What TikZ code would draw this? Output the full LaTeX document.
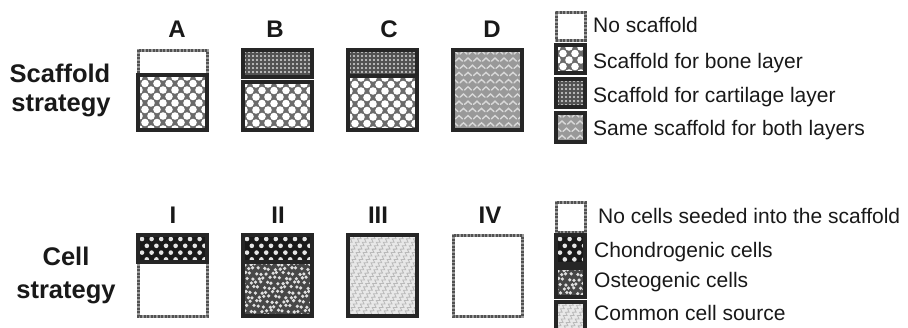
\documentclass[tikz,border=0pt]{standalone}
\usepackage{fontspec}
\setmainfont{Liberation Sans}
\usetikzlibrary{decorations.pathmorphing}
\tikzset{
  solidbox/.style={draw=black!85, line width=3.2pt},
  emptyband/.style={draw=black!40, line width=3pt, fill=white},
  emptydots/.style={draw=black!68, line width=3pt, dash pattern=on 2pt off 1.5pt},
  lettr/.style={font=\fontsize{24}{28}\selectfont\bfseries, anchor=base, inner sep=0pt, text=black!90},
  sidelbl/.style={font=\fontsize{25.5}{30}\selectfont\bfseries, anchor=base, inner sep=0pt, text=black!90},
  legtxt/.style={font=\fontsize{21}{25}\selectfont, anchor=base west, inner sep=0pt, text=black!90},
}
% pattern macros: #1 x1, #2 y1, #3 x2, #4 y2 (pixel coords, y down)
\newcommand\patbone[4]{%
  \fill[black!58] (#1,#2) rectangle (#3,#4);
  \foreach \i in {0,...,6}{\foreach \j in {0,...,12}{%
    \fill[white] ({#1+1+\i*12+mod(\j,2)*6},{#2+2+\j*6.5}) circle (3.8pt);}}}
\newcommand\patcart[4]{%
  \fill[black!68] (#1,#2) rectangle (#3,#4);
  \foreach \i in {0,...,17}{\foreach \j in {0,...,7}{%
    \fill[gray!30] ({#1+2+\i*4},{#2+2+\j*4}) circle (1.15pt);}}}
\newcommand\patsame[4]{%
  \fill[black!40] (#1,#2) rectangle (#3,#4);
  \foreach \i in {0,...,8}{\foreach \j in {0,...,11}{%
    \draw[white!85!black, line width=1.4pt, line cap=round]
      ({#1-2+\i*9+mod(\j,2)*4.5},{#2+4+\j*7.2}) -- ++(3.5,-3.2) -- ++(3.5,3.2);}}}
\newcommand\patchon[4]{%
  \fill[black!90] (#1,#2) rectangle (#3,#4);
  \foreach \i in {0,...,7}{\foreach \j in {0,...,4}{%
    \fill[gray!20] ({#1+4+\i*9.6+mod(\j,2)*4.8},{#2+4+\j*6.8}) circle (2.3pt);}}}
\newcommand\patosteo[4]{%
  \fill[black!72] (#1,#2) rectangle (#3,#4);
  \foreach \i in {0,...,13}{\foreach \j in {0,...,12}{%
    \fill[white!88!black] ({#1+2+\i*5.4+mod(\j,2)*2.7+1.1*sin(\i*137+\j*71)},{#2+2+\j*4.7+1.0*cos(\i*53+\j*97)}) circle (1.8pt);}}}
\newcommand\patcommon[4]{%
  \fill[gray!18] (#1,#2) rectangle (#3,#4);
  \foreach \k in {-12,...,12}{%
    \draw[gray!55, line width=0.8pt, decorate, decoration={zigzag, segment length=4pt, amplitude=1.6pt}]
      ({#1+\k*7},{#4}) -- ++(60,-100);}}
\newcommand\solidcell[5]{%
  \begin{scope}\clip (#2,#3) rectangle (#4,#5); \csname pat#1\endcsname{#2}{#3}{#4}{#5}\end{scope}
  \draw[solidbox] (#2,#3) rectangle (#4,#5);}
\newcommand\emptycell[4]{\draw[emptyband] (#1,#2) rectangle (#3,#4); \draw[emptydots] (#1,#2) rectangle (#3,#4);}
\begin{document}
\begin{tikzpicture}[x=1pt, y=-1pt]
\useasboundingbox[fill=white] (0,0) rectangle (908,327);

% side labels
\node[sidelbl] (sc1) at (60,82) {Scaffold};
\node[sidelbl] (sc2) at (61,111) {strategy};
\node[sidelbl] (ce1) at (66,265) {Cell};
\node[sidelbl] (ce2) at (66,298) {strategy};

% letters
\node[lettr] (la) at (177,37) {A};
\node[lettr] (lb) at (275,37) {B};
\node[lettr] (lc) at (389,37) {C};
\node[lettr] (ld) at (492,37) {D};
\node[lettr] (l1) at (173,223) {I};
\node[lettr] (l2) at (278,223) {II};
\node[lettr] (l3) at (378,223) {III};
\node[lettr] (l4) at (490,223) {IV};

% scaffold row
\emptycell{138}{50}{207}{75}
\solidcell{bone}{138}{75}{207}{130}
\solidcell{cart}{243}{50}{312}{77}
\solidcell{bone}{243}{82}{312}{130}
\solidcell{bone}{348}{76}{417}{130}
\solidcell{cart}{348}{50}{417}{76}
\solidcell{same}{453}{50}{522}{130}

% cell row
\emptycell{138}{262}{207}{316}
\solidcell{chon}{138}{235}{207}{262}
\solidcell{osteo}{243}{262}{312}{316}
\solidcell{chon}{243}{235}{312}{262}
\solidcell{common}{348}{235}{417}{316}
\emptycell{453}{235}{522}{316}

% scaffold legend
\emptycell{556}{12}{585}{40}
\solidcell{bone}{556}{45}{585}{73}
\solidcell{cart}{556}{79}{585}{107}
\solidcell{same}{556}{113}{585}{142}
\node[legtxt] (t1) at (593,32.5) {No scaffold};
\node[legtxt] (t2) at (593,68) {Scaffold for bone layer};
\node[legtxt] (t3) at (593,102) {Scaffold for cartilage layer};
\node[legtxt] (t4) at (593,135) {Same scaffold for both layers};

% cell legend
\emptycell{556}{202}{585}{232}
\solidcell{chon}{556}{235}{585}{264}
\solidcell{osteo}{556}{268}{585}{297}
\solidcell{common}{556}{302}{585}{331}
\node[legtxt] (u1) at (598,223) {No cells seeded into the scaffold};
\node[legtxt] (u2) at (594,257) {Chondrogenic cells};
\node[legtxt] (u3) at (594,287) {Osteogenic cells};
\node[legtxt] (u4) at (594,320) {Common cell source};
\end{tikzpicture}
\end{document}
